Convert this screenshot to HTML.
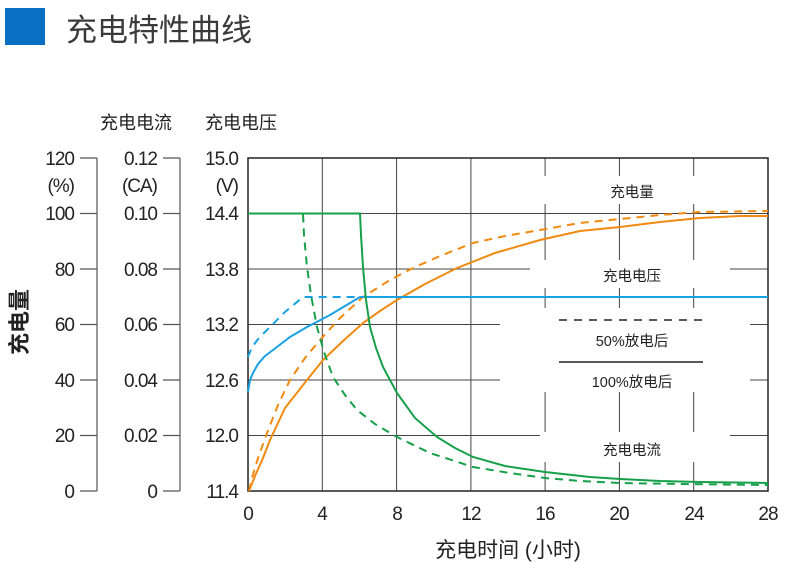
<!DOCTYPE html>
<html><head><meta charset="utf-8"><style>
body{margin:0;background:#fff;}
svg{display:block;font-family:"Liberation Sans","Noto Sans CJK SC",sans-serif;}
</style></head><body>
<svg width="790" height="568" viewBox="0 0 790 568">
<rect x="5" y="8" width="40" height="37" fill="#0a6fc2"/>
<text x="66" y="41" font-size="31" fill="#3a3a3a">充电特性曲线</text>
<text x="100" y="129" font-size="18" fill="#222">充电电流</text>
<text x="205" y="129" font-size="18" fill="#222">充电电压</text>
<text transform="translate(27,322) rotate(-90)" font-size="22" fill="#222" text-anchor="middle" font-weight="bold">充电量</text>
<g stroke="#555" stroke-width="1.2" fill="none">
<path d="M97,158V491M180,158V491"/>
<path d="M80,158H97M80,213.5H97M80,269H97M80,324.5H97M80,380H97M80,435.5H97M80,491H97"/>
<path d="M163,158H180M163,213.5H180M163,269H180M163,324.5H180M163,380H180M163,435.5H180M163,491H180"/>
</g>
<g font-size="19" fill="#222" text-anchor="end" letter-spacing="-1">
<text x="74" y="165">120</text><text x="74" y="192">(%)</text><text x="74" y="220">100</text><text x="74" y="276">80</text><text x="74" y="331">60</text><text x="74" y="387">40</text><text x="74" y="442">20</text><text x="74" y="498">0</text>
<text x="157" y="165">0.12</text><text x="157" y="192">(CA)</text><text x="157" y="220">0.10</text><text x="157" y="276">0.08</text><text x="157" y="331">0.06</text><text x="157" y="387">0.04</text><text x="157" y="442">0.02</text><text x="157" y="498">0</text>
<text x="238" y="165">15.0</text><text x="238" y="192">(V)</text><text x="238" y="220">14.4</text><text x="238" y="276">13.8</text><text x="238" y="331">13.2</text><text x="238" y="387">12.6</text><text x="238" y="442">12.0</text><text x="238" y="498">11.4</text>
</g>
<g stroke="#444" stroke-width="1" fill="none">
<path d="M322.3,158V491M396.6,158V491M470.9,158V491M545.1,158V491M619.4,158V491M693.7,158V491"/>
<path d="M248,213.5H768M248,269H768M248,324.5H768M248,380H768M248,435.5H768"/>
</g>
<g fill="#fff">
<rect x="530" y="176" width="200" height="28"/>
<rect x="530" y="260" width="200" height="28"/>
<rect x="500" y="308" width="250" height="84"/>
<rect x="540" y="432" width="190" height="30"/>
</g>
<rect x="248" y="158" width="520" height="333" fill="none" stroke="#222" stroke-width="1.5"/>
<g font-size="14.5" fill="#222" text-anchor="middle">
<text x="632" y="197">充电量</text>
<text x="632" y="281">充电电压</text>
<text x="632" y="346">50%放电后</text>
<text x="632" y="387">100%放电后</text>
<text x="632" y="455">充电电流</text>
</g>
<path d="M559,320H703" stroke="#222" stroke-width="1.5" stroke-dasharray="8,7"/>
<path d="M559,362H703" stroke="#222" stroke-width="1.5"/>
<g fill="none" stroke-width="2">
<path stroke="#f08a10" d="M249,491 L252,478 L258,458 L267,433 L278,405 L290,380 L305,358 L320,340 L340,318 L363,297 L390,280 L413,268 L440,256 L473,243 L505,236 L540,230 L580,223 L620,219 L660,215 L700,212 L768,211" stroke-dasharray="8,6"/>
<path stroke="#f08a10" d="M249,491 L255,476 L263,458 L270,440 L285,408 L307,380 L323,360 L343,341 L363,323 L380,311 L397,300 L425,284 L457,268 L495,253 L540,240 L580,231 L620,227 L660,222 L700,218 L740,216 L768,216"/>
<path stroke="#19a2e3" d="M248,392 L250,380 L253,373 L258,364 L265,356 L273,350 L290,337 L307,327 L330,315 L345,306 L360,297 L768,297"/>
<path stroke="#19a2e3" d="M248,357 L252,347 L259,338 L270,327 L285,312 L303,297 L768,297" stroke-dasharray="8,6"/>
<path stroke="#16a04a" d="M248,213.5 L360,213.5 L361,235 L363,267 L366,300 L370,327 L376,348 L383,367 L397,393 L415,418 L437,437 L455,448 L473,457 L505,466 L545,472 L590,477 L620,479 L660,481 L700,482 L768,483"/>
<path stroke="#16a04a" d="M248,213.5 L303,213.5 L304,235 L307,267 L311,295 L317,327 L324,352 L333,377 L345,395 L357,410 L375,424 L397,437 L430,453 L473,467 L510,473 L545,478 L580,481 L620,483 L680,484 L768,485" stroke-dasharray="8,6"/>
</g>
<g font-size="19" fill="#222" text-anchor="middle" letter-spacing="-1">
<text x="248" y="520">0</text><text x="322" y="520">4</text><text x="397" y="520">8</text><text x="471" y="520">12</text><text x="545" y="520">16</text><text x="619" y="520">20</text><text x="694" y="520">24</text><text x="768" y="520">28</text>
</g>
<text x="508" y="557" font-size="21" fill="#222" text-anchor="middle">充电时间 (小时)</text>
</svg>
</body></html>
